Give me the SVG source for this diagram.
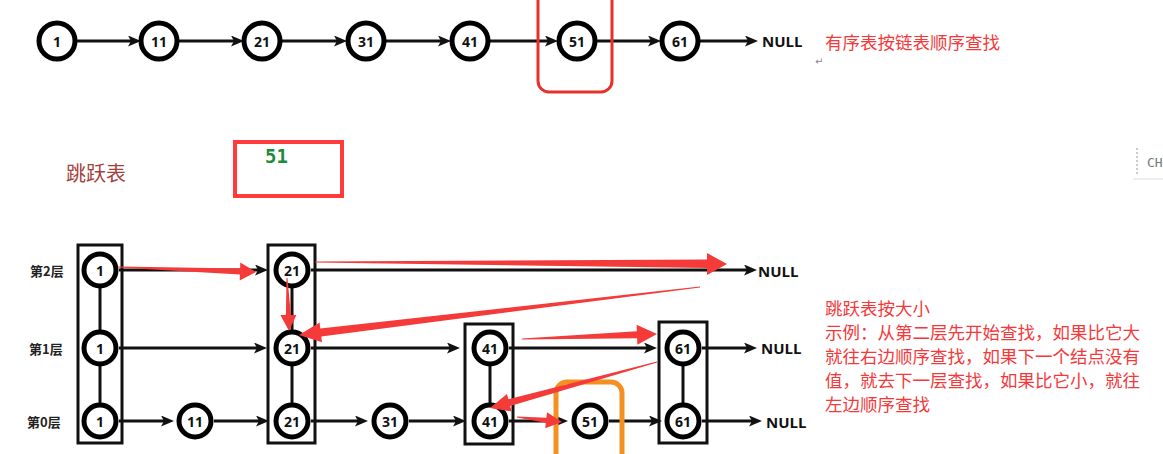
<svg xmlns="http://www.w3.org/2000/svg" width="1163" height="454" viewBox="0 0 1163 454">
<defs>
<style>
.n circle{fill:#fff;stroke:#000;stroke-width:5}
.n text,.lbl{font-family:"Open Sans","Noto Sans",sans-serif;font-weight:bold;font-size:14px;fill:#111;text-anchor:middle;dominant-baseline:central}
.null{font-family:"Open Sans","Noto Sans",sans-serif;font-weight:bold;font-size:15px;fill:#111;dominant-baseline:central}
.lv{font-family:"Noto Sans CJK SC",sans-serif;font-weight:bold;font-size:13px;fill:#222;dominant-baseline:central}
.c line{stroke:#111;stroke-width:3;marker-end:url(#ah)}
.v line{stroke:#111;stroke-width:3}
.box{fill:none;stroke:#111;stroke-width:3}
.red{fill:#f53a3a}
.rt{font-family:"Noto Sans CJK SC",sans-serif;font-size:17.5px;fill:#f5393b}
</style>
<marker id="ah" viewBox="0 0 13 11" refX="3" refY="5.5" markerWidth="13" markerHeight="11" markerUnits="userSpaceOnUse" orient="auto">
<path d="M0,0 L13,5.5 L0,11 L3,5.5 z" fill="#111"/>
</marker>
</defs>
<rect width="1163" height="454" fill="#fff"/>

<!-- top row connectors -->
<g id="top-connectors" class="c">
<line x1="76" y1="41" x2="131" y2="41"/>
<line x1="179" y1="41" x2="234" y2="41"/>
<line x1="282" y1="41" x2="337" y2="41"/>
<line x1="385" y1="41" x2="441" y2="41"/>
<line x1="489" y1="41" x2="548" y2="41"/>
<line x1="596" y1="41" x2="651" y2="41"/>
<line x1="699" y1="41" x2="748" y2="41"/>
</g>
<g id="t1" class="n"><circle cx="57" cy="41" r="18"/><text x="57" y="41">1</text></g>
<g id="t11" class="n"><circle cx="159" cy="41" r="18"/><text x="159" y="41">11</text></g>
<g id="t21" class="n"><circle cx="262" cy="41" r="18"/><text x="262" y="41">21</text></g>
<g id="t31" class="n"><circle cx="366" cy="41" r="18"/><text x="366" y="41">31</text></g>
<g id="t41" class="n"><circle cx="470" cy="41" r="18"/><text x="470" y="41">41</text></g>
<g id="t51" class="n"><circle cx="577" cy="41" r="18"/><text x="577" y="41">51</text></g>
<g id="t61" class="n"><circle cx="680" cy="41" r="18"/><text x="680" y="41">61</text></g>
<g id="tnull"><text class="null" x="762" y="41">NULL</text></g>
<rect id="top-highlight" x="538" y="-12" width="74" height="104" rx="11" fill="none" stroke="#e8302a" stroke-width="3"/>
<text class="rt" x="825" y="49">有序表按链表顺序查找</text>
<text x="815" y="65" font-family="DejaVu Sans,sans-serif" font-size="10" fill="#888">↵</text>

<!-- middle -->
<text x="66" y="181" font-family="Noto Sans CJK SC,sans-serif" font-size="20" fill="#a3413a">跳跃表</text>
<rect id="search-box" x="235" y="142" width="107" height="54" fill="none" stroke="#ff3b3b" stroke-width="4"/>
<text x="265" y="163" font-family="DejaVu Sans Mono,monospace" font-size="19" font-weight="bold" fill="#1e8a3c">51</text>
<line x1="1137" y1="148" x2="1137" y2="176" stroke="#bbb" stroke-width="1.5" stroke-dasharray="2,2"/>
<line x1="1133" y1="179" x2="1163" y2="179" stroke="#ddd" stroke-width="1"/>
<text x="1147" y="167" font-family="DejaVu Sans Mono,monospace" font-size="13" fill="#777">CH</text>

<!-- skip list -->
<g id="level-labels">
<text class="lv" x="30" y="270">第2层</text>
<text class="lv" x="29" y="348">第1层</text>
<text class="lv" x="27" y="421">第0层</text>
</g>
<g id="columns">
<rect class="box" x="78" y="245" width="44" height="198"/>
<rect class="box" x="268" y="245" width="47" height="198"/>
<rect class="box" x="465" y="324" width="48" height="120"/>
<rect class="box" x="659" y="322" width="48" height="121"/>
</g>
<g id="connectors">
<g class="v">
<line x1="100" y1="270" x2="100" y2="421"/>
<line x1="292" y1="270" x2="292" y2="421"/>
<line x1="490" y1="348" x2="490" y2="421"/>
<line x1="683" y1="348" x2="683" y2="421"/>
</g>
<g class="c">
<line x1="119" y1="270" x2="258" y2="270"/>
<line x1="311" y1="270" x2="747" y2="270"/>
<line x1="119" y1="348" x2="257" y2="348"/>
<line x1="311" y1="348" x2="450" y2="348"/>
<line x1="509" y1="348" x2="647" y2="348"/>
<line x1="702" y1="348" x2="747" y2="348"/>
<line x1="119" y1="421" x2="164" y2="421"/>
<line x1="214" y1="421" x2="259" y2="421"/>
<line x1="311" y1="421" x2="358" y2="421"/>
<line x1="409" y1="421" x2="456" y2="421"/>
<line x1="509" y1="421" x2="558" y2="421"/>
<line x1="609" y1="421" x2="652" y2="421"/>
<line x1="702" y1="421" x2="752" y2="421"/>
</g>
</g>
<g id="s1-2" class="n"><circle cx="100" cy="270" r="16"/><text x="100" y="270">1</text></g>
<g id="s1-1" class="n"><circle cx="100" cy="348" r="16"/><text x="100" y="348">1</text></g>
<g id="s1-0" class="n"><circle cx="100" cy="421" r="16"/><text x="100" y="421">1</text></g>
<g id="s11-0" class="n"><circle cx="195" cy="421" r="16"/><text x="195" y="421">11</text></g>
<g id="s21-2" class="n"><circle cx="292" cy="270" r="16"/><text x="292" y="270">21</text></g>
<g id="s21-1" class="n"><circle cx="292" cy="348" r="16"/><text x="292" y="348">21</text></g>
<g id="s21-0" class="n"><circle cx="292" cy="421" r="16"/><text x="292" y="421">21</text></g>
<g id="s31-0" class="n"><circle cx="390" cy="421" r="16"/><text x="390" y="421">31</text></g>
<g id="s41-1" class="n"><circle cx="490" cy="348" r="16"/><text x="490" y="348">41</text></g>
<g id="s41-0" class="n"><circle cx="490" cy="421" r="16"/><text x="490" y="421">41</text></g>
<g id="s51-0" class="n"><circle cx="590" cy="421" r="16"/><text x="590" y="421">51</text></g>
<g id="s61-1" class="n"><circle cx="683" cy="348" r="16"/><text x="683" y="348">61</text></g>
<g id="s61-0" class="n"><circle cx="683" cy="421" r="16"/><text x="683" y="421">61</text></g>
<g id="nulls">
<text class="null" x="758" y="271">NULL</text>
<text class="null" x="761" y="348">NULL</text>
<text class="null" x="766" y="422">NULL</text>
</g>
<rect id="found-highlight" x="556" y="382" width="66" height="95" rx="11" fill="none" stroke="#f39020" stroke-width="5"/>

<g id="search-path">
<polygon class="red" points="118,266.5 240.1,268.4 240.3,262.4 256,272 239.7,280.4 239.9,274.4 118,267.5"/>
<polygon class="red" points="315,261.5 707,259.5 707,253 727,264 707,275 707,268 315,262.5"/>
<polygon class="red" points="286.5,278 285.9,315 280.4,315 289,331 296.4,315 290.9,315 287.5,278"/>
<polygon class="red" points="700.06,287.5 321.3,336.4 322,342.3 299,335 319.6,322.5 320.3,328.4 699.94,286.5"/>
<polygon class="red" points="522,339.5 637.1,338.2 637.4,344.7 657,334 636.6,324.7 636.9,331.2 522,338.5"/>
<polygon class="red" points="657.13,362.48 510.2,406.1 511.7,411.4 490,408 506.9,394 508.4,399.3 656.87,361.52"/>
<polygon class="red" points="516.9,417.5 545.8,422.7 545.2,428.2 562,422 547,412.3 546.4,417.7 517.1,416.5"/>
</g>

<g id="explanation" class="rt">
<text x="825" y="315">跳跃表按大小</text>
<text x="825" y="339">示例：从第二层先开始查找，如果比它大</text>
<text x="825" y="363">就往右边顺序查找，如果下一个结点没有</text>
<text x="825" y="387">值，就去下一层查找，如果比它小，就往</text>
<text x="825" y="411">左边顺序查找</text>
</g>
</svg>
